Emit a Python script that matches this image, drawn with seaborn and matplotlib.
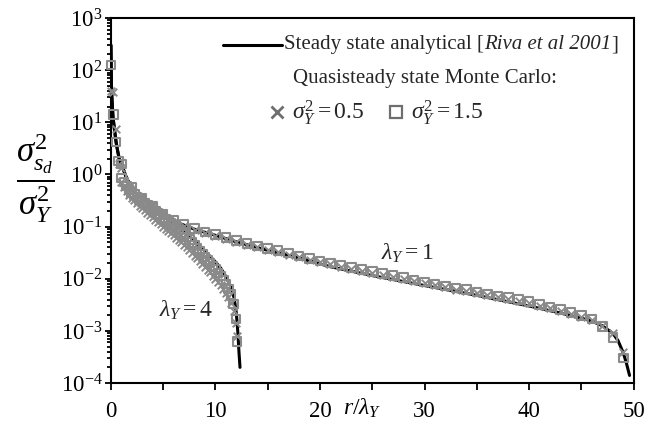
import numpy as np
import pandas as pd
import matplotlib
matplotlib.use("Agg")
import matplotlib.pyplot as plt
import seaborn as sns

# ---------------- data ----------------
# analytical steady state, lambda_Y = 1
line1_r = [0.01, 0.05, 0.1, 0.2, 0.32, 0.5, 0.64, 0.8, 1.12, 1.5, 2, 2.7, 3.5, 4, 5, 6, 8, 10,
           12, 15, 18, 21, 25, 30, 35, 40, 43, 46, 47, 48, 48.5, 49, 49.3, 49.6]
line1_v = [300, 60, 30, 13, 8, 4.2, 2.9, 2.0, 1.38, 0.85, 0.55, 0.38, 0.28, 0.23, 0.17, 0.128,
           0.089, 0.068, 0.051, 0.035, 0.025, 0.017, 0.0115, 0.0074, 0.0048, 0.0030, 0.0022,
           0.00155, 0.00125, 0.0009, 0.00065, 0.00038, 0.00024, 0.00014]

# analytical steady state, lambda_Y = 4
line4_r = [0.01, 0.05, 0.1, 0.2, 0.32, 0.5, 0.64, 0.8, 1.12, 1.5, 2, 2.7, 3.5, 4, 5, 6, 7, 8, 9,
           10, 10.5, 11, 11.5, 11.8, 12.0, 12.15, 12.25, 12.35]
line4_v = [300, 60, 30, 13, 8, 4.2, 2.9, 2.0, 1.38, 0.85, 0.55, 0.38, 0.28, 0.23, 0.16, 0.115,
           0.08, 0.053, 0.034, 0.021, 0.016, 0.011, 0.0068, 0.0042, 0.0022, 0.0009, 0.0004, 0.0002]

# Monte Carlo, lambda_Y = 1 (r/lambda = 0..49)
mc1_r = list(range(0, 50))
mc1_sq = [126, 1.58, 0.575, 0.347, 0.240, 0.174, 0.132, 0.110, 0.0912, 0.0794, 0.0708, 0.0617,
          0.0537, 0.0479, 0.0427, 0.0380, 0.0347, 0.0309, 0.0275, 0.0245, 0.0221, 0.0200,
          0.0182, 0.0166, 0.0151, 0.0138, 0.0126, 0.0115, 0.0105, 0.00955, 0.00871, 0.00794,
          0.00724, 0.00661, 0.00617, 0.00562, 0.00513, 0.00468, 0.00437, 0.00398, 0.00363,
          0.00324, 0.00288, 0.00257, 0.00224, 0.00195, 0.00170, 0.00120, 0.00074, 0.00030]
mc1_x = [40, 1.3, 0.52, 0.32, 0.225, 0.163, 0.124, 0.103, 0.085, 0.074, 0.066, 0.058, 0.050,
         0.045, 0.040, 0.0355, 0.0325, 0.029, 0.0258, 0.023, 0.0207, 0.0188, 0.0171, 0.0156,
         0.0142, 0.013, 0.0118, 0.0108, 0.0099, 0.009, 0.0082, 0.0075, 0.0068, 0.0062, 0.0058,
         0.0053, 0.0048, 0.0044, 0.0041, 0.0037, 0.0034, 0.0030, 0.0027, 0.0024, 0.0021,
         0.00185, 0.0016, 0.00125, 0.00091, 0.0004]

# Monte Carlo, lambda_Y = 4 (r/lambda in steps of 0.25)
mc4_r = [0.25, 0.5, 0.75, 1.0, 1.25, 1.5, 1.75, 2.0, 2.25, 2.5, 2.75, 3.0, 3.25, 3.5, 3.75, 4.0,
         4.25, 4.5, 4.75, 5.0, 5.25, 5.5, 5.75, 6.0, 6.25, 6.5, 6.75, 7.0, 7.25, 7.5, 7.75, 8.0,
         8.25, 8.5, 8.75, 9.0, 9.25, 9.5, 9.75, 10.0, 10.25, 10.5, 10.75, 11.0, 11.25, 11.5,
         11.75, 11.95, 12.05]
mc4_sq = [14, 4.2, 1.8, 0.85, 0.71, 0.60, 0.51, 0.45, 0.41, 0.37, 0.33, 0.30, 0.28, 0.26, 0.24,
          0.22, 0.20, 0.18, 0.166, 0.151, 0.138, 0.126, 0.115, 0.105, 0.095, 0.086, 0.078,
          0.071, 0.063, 0.056, 0.049, 0.044, 0.038, 0.034, 0.030, 0.026, 0.023, 0.020, 0.017,
          0.015, 0.013, 0.0112, 0.0095, 0.0079, 0.0063, 0.0050, 0.0033, 0.0017, 0.00063]
mc4_x = [38, 7.6, 1.6, 0.71, 0.58, 0.48, 0.41, 0.355, 0.32, 0.28, 0.25, 0.224, 0.204, 0.186,
         0.168, 0.151, 0.136, 0.123, 0.111, 0.100, 0.091, 0.082, 0.074, 0.068, 0.061, 0.055,
         0.050, 0.045, 0.040, 0.035, 0.031, 0.0275, 0.0245, 0.022, 0.0193, 0.017, 0.015,
         0.0132, 0.0115, 0.010, 0.0087, 0.0076, 0.0065, 0.0054, 0.0044, 0.0034, 0.0024,
         0.0014, 0.0008]

x_ticks = [0, 10, 20, 30, 40, 50]
x_minor = [5, 15, 25, 35, 45]

# ---------------- style ----------------
sns.set_theme(style="ticks")
plt.rcParams["font.family"] = ["Liberation Serif", "DejaVu Serif"]
plt.rcParams["mathtext.fontset"] = "custom"
plt.rcParams["mathtext.rm"] = "Liberation Serif"
plt.rcParams["mathtext.it"] = "Liberation Serif:italic"
plt.rcParams["mathtext.bf"] = "Liberation Serif:bold"

GRAY = "#8a8a8a"
DGRAY = "#6e6e6e"

fig = plt.figure(figsize=(6.52, 4.28), dpi=100)
ax = fig.add_axes([0.170, 0.105, 0.802, 0.853])

df_l1 = pd.DataFrame({"r": line1_r, "v": line1_v})
df_l4 = pd.DataFrame({"r": line4_r, "v": line4_v})
sns.lineplot(data=df_l1, x="r", y="v", color="black", lw=2.2, sort=False, ax=ax, zorder=2)
sns.lineplot(data=df_l4, x="r", y="v", color="black", lw=2.2, sort=False, ax=ax, zorder=2)

df_m1 = pd.DataFrame({"r": mc1_r, "sq": mc1_sq, "x": mc1_x})
df_m4 = pd.DataFrame({"r": mc4_r, "sq": mc4_sq, "x": mc4_x})
for d in (df_m1, df_m4):
    sns.scatterplot(data=d, x="r", y="x", marker="x", s=30, color=GRAY, linewidth=1.4,
                    ax=ax, zorder=3, clip_on=False)
    sns.scatterplot(data=d, x="r", y="sq", marker="s", s=38, facecolor="none",
                    edgecolor=GRAY, linewidth=1.5, ax=ax, zorder=4, clip_on=False)

ax.set_yscale("log")
ax.set_xlim(0, 50)
ax.set_ylim(1e-4, 1e3)
ax.set_xticks(x_ticks)
ax.set_xticks(x_minor, minor=True)
ax.yaxis.set_major_locator(matplotlib.ticker.LogLocator(base=10, numticks=10))
ax.yaxis.set_minor_locator(matplotlib.ticker.LogLocator(base=10, subs=np.arange(2, 10), numticks=20))
ax.yaxis.set_minor_formatter(matplotlib.ticker.NullFormatter())
ax.tick_params(axis="both", which="both", direction="out", color="black", width=1.3,
               labelsize=16.5, labelcolor="black")
ax.tick_params(axis="x", which="both", length=5, pad=8)
ax.tick_params(axis="y", which="major", length=4.5, pad=1.5)
ax.tick_params(axis="y", which="minor", length=3)
for s in ax.spines.values():
    s.set_visible(True)
    s.set_linewidth(1.5)
    s.set_color("black")
ax.set_xlabel("")
ax.set_ylabel("")

# y label (fraction)
fig.text(0.054, 0.584, r"$\dfrac{\sigma^2_{s_d}}{\sigma^2_Y}$", fontsize=25, ha="center",
         va="center", color="black")
# x label
fig.text(0.555, 0.046, r"$r/\lambda_Y$", fontsize=17, ha="center", va="center", color="black")

# curve annotations
ax.text(0.568, 0.356, r"$\lambda_Y = 1$", transform=ax.transAxes, fontsize=17,
        ha="center", va="center")
ax.text(0.143, 0.200, r"$\lambda_Y = 4$", transform=ax.transAxes, fontsize=17,
        ha="center", va="center")

# legend block
ax.plot([0.215, 0.328], [0.926, 0.926], transform=ax.transAxes, color="black", lw=2.2)
t1 = ax.text(0.332, 0.926, "Steady state analytical [", transform=ax.transAxes,
             fontsize=15, ha="left", va="center")
t2 = ax.annotate("Riva et al 2001", xy=(1, 0.5), xycoords=t1, fontsize=15, style="italic",
                 ha="left", va="center")
t3 = ax.annotate("]", xy=(1, 0.5), xycoords=t2, fontsize=15, ha="left", va="center")
ax.text(0.600, 0.833, "Quasisteady state Monte Carlo:", transform=ax.transAxes,
        fontsize=15, ha="center", va="center")
ax.plot([0.317], [0.742], transform=ax.transAxes, marker="x", ms=8, mew=2.0, color=DGRAY,
        ls="none")
ax.text(0.346, 0.742, r"$\sigma_Y^2 = 0.5$", transform=ax.transAxes, fontsize=17,
        ha="left", va="center")
ax.plot([0.545], [0.742], transform=ax.transAxes, marker="s", ms=9, mew=1.6,
        markerfacecolor="none", markeredgecolor=DGRAY, ls="none")
ax.text(0.574, 0.742, r"$\sigma_Y^2 = 1.5$", transform=ax.transAxes, fontsize=17,
        ha="left", va="center")

fig.savefig("out.png", dpi=100)
